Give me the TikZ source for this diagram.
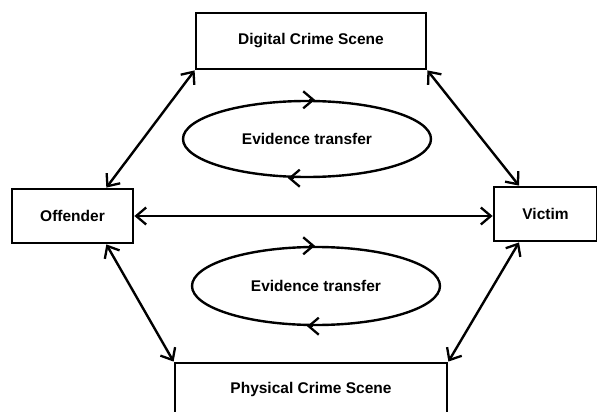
\documentclass[tikz,border=0pt]{standalone}
\usepackage{fontspec}
\setmainfont{Liberation Sans}
\usetikzlibrary{arrows.meta,shapes.geometric}

\begin{document}
\begin{tikzpicture}[x=1pt,y=-1pt,
  >={Straight Barb[length=10pt,width=17pt,line width=2.3pt]},
  every node/.style={font=\fontsize{15.5}{18}\selectfont\bfseries, inner sep=0pt},
  box/.style={draw, rectangle, line width=2.8pt},
  cloud/.style={draw, ellipse, line width=2.4pt},
  link/.style={<->, line width=2.4pt},
  flow/.style={->, line width=2.4pt}]
\useasboundingbox (0,0) rectangle (597,412);

% scenes and parties
\node[box, minimum width=230pt, minimum height=56pt] (dcs) at (311,41) {Digital Crime Scene};
\node[box, minimum width=272pt, minimum height=52pt] (pcs) at (311,389) {Physical Crime Scene};
\node[box, minimum width=121pt, minimum height=54pt] (off) at (72.5,216) {Offender};
\node[box, minimum width=103pt, minimum height=54pt] (vic) at (545.5,214) {Victim};

% evidence transfer loops
\node[cloud, minimum width=248pt, minimum height=76pt] (eu) at (307,139) {Evidence transfer};
\node[cloud, minimum width=248pt, minimum height=78pt] (el) at (316,286) {Evidence transfer};

% direction marks on the loops
\draw[flow] ([xshift=2pt]eu.north) -- ([xshift=8pt]eu.north);
\draw[flow] ([xshift=-13pt]eu.south) -- ([xshift=-19pt]eu.south);
\draw[flow] ([xshift=-7pt]el.north) -- ([xshift=-1pt]el.north);
\draw[flow] ([xshift=-3pt]el.south) -- ([xshift=-9pt]el.south);

% two-way links
\draw[link] (off.40) -- (dcs.south west);
\draw[link] (off.-40) -- (pcs.north west);
\draw[link] (vic.133) -- (dcs.south east);
\draw[link] (vic.-133) -- (pcs.north east);
\draw[link] (off.east) -- (off.east -| vic.west);
\end{tikzpicture}
\end{document}
